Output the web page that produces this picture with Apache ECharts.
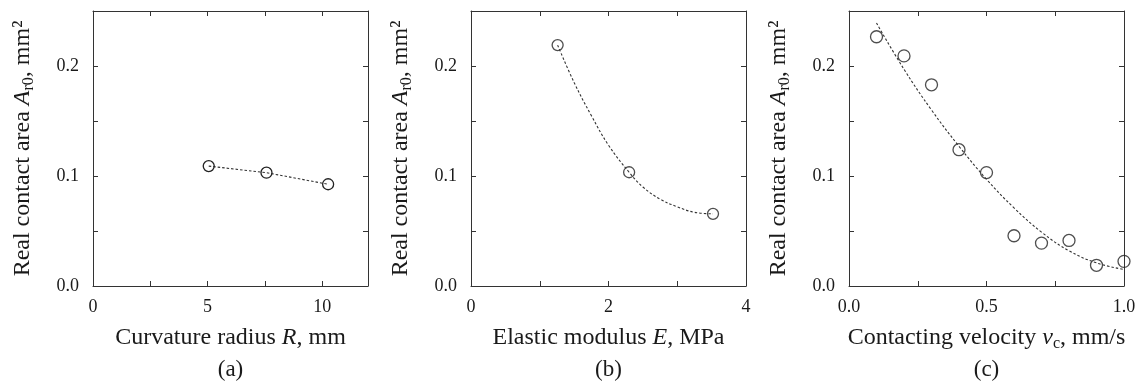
<!DOCTYPE html>
<html><head><meta charset="utf-8">
<script src="https://cdn.jsdelivr.net/npm/echarts@6/dist/echarts.min.js"></script>
<style>html,body{margin:0;padding:0;background:#fff}#c{width:1144px;height:385px}</style>
</head><body><div id="c"></div>
<script>
// ---- data ----
const radiusR = [5.05, 7.57, 10.26];
const areaA = [0.109, 0.103, 0.0925];

const modulusE = [1.26, 2.30, 3.52];
const areaB = [0.219, 0.1034, 0.0656];
const fitBx = [1.26, 1.5, 1.75, 2.0, 2.3, 2.5, 2.75, 3.0, 3.25, 3.52];
const fitBy = [0.219, 0.185, 0.155, 0.128, 0.1034, 0.090, 0.079, 0.072, 0.067, 0.0656];

const velocityV = [0.1, 0.2, 0.3, 0.4, 0.5, 0.6, 0.7, 0.8, 0.9, 1.0];
const areaC = [0.2266, 0.2092, 0.1829, 0.1239, 0.1031, 0.0457, 0.039, 0.0414, 0.0188, 0.0224];
const fitCx = [0.1, 0.2, 0.3, 0.4, 0.5, 0.6, 0.7, 0.8, 0.9, 1.0];
const fitCy = [0.239, 0.197, 0.160, 0.127, 0.097, 0.071, 0.049, 0.032, 0.021, 0.015];

const yTickLabels = ['0.0', '0.1', '0.2'];
const xTickLabelsA = ['0', '5', '10'];
const xTickLabelsB = ['0', '2', '4'];
const xTickLabelsC = ['0.0', '0.5', '1.0'];

// ---- styling ----
const FONT = 'Liberation Serif';
const AX = '#333';
const TXT = '#1a1a1a';
const gridLefts = [93, 471, 849];
const GTOP = 11, GW = 275, GH = 275;

function labelFmt(list) {
  return function (v) {
    for (const s of list) {
      if (Math.abs(parseFloat(s) - v) < 1e-6) return s;
    }
    return '';
  };
}
const richName = {
  i: { fontStyle: 'italic', fontFamily: FONT, fontSize: 24, color: TXT, lineHeight: 28 },
  s: { fontFamily: FONT, fontSize: 16, color: TXT, verticalAlign: 'bottom', lineHeight: 18 }
};
function nameStyle() {
  return { fontFamily: FONT, fontSize: 24, color: TXT, lineHeight: 28, rich: richName };
}

const xDefs = [
  { min: 0, max: 12, interval: 2.5, labels: xTickLabelsA, name: 'Curvature radius {i|R}, mm' },
  { min: 0, max: 4, interval: 1, labels: xTickLabelsB, name: 'Elastic modulus {i|E}, MPa' },
  { min: 0, max: 1, interval: 0.25, labels: xTickLabelsC, name: 'Contacting velocity {i|v}{s|c}, mm/s' }
];

const grid = [], xAxis = [], yAxis = [];
xDefs.forEach((d, i) => {
  grid.push({ left: gridLefts[i], top: GTOP, width: GW, height: GH, containLabel: false });
  const common = {
    type: 'value', gridIndex: i, min: d.min, max: d.max, interval: d.interval,
    axisLine: { show: true, onZero: false, lineStyle: { color: AX, width: 1 } },
    axisTick: { show: true, inside: true, length: 5, lineStyle: { color: AX, width: 1 } },
    splitLine: { show: false }
  };
  xAxis.push(Object.assign({}, common, {
    position: 'bottom',
    name: d.name, nameLocation: 'middle', nameGap: 38, nameTextStyle: nameStyle(),
    axisLabel: { show: true, margin: 12, fontFamily: FONT, fontSize: 18, color: TXT,
      formatter: labelFmt(d.labels), showMinLabel: true, showMaxLabel: true }
  }));
  xAxis.push(Object.assign({}, common, { position: 'top', axisLabel: { show: false } }));
  const ycommon = {
    type: 'value', gridIndex: i, min: 0, max: 0.25, interval: 0.05,
    axisLine: { show: true, onZero: false, lineStyle: { color: AX, width: 1 } },
    axisTick: { show: true, inside: true, length: 5, lineStyle: { color: AX, width: 1 } },
    splitLine: { show: false }
  };
  yAxis.push(Object.assign({}, ycommon, {
    position: 'left',
    name: 'Real contact area {i|A}{s|r0}, mm²', nameLocation: 'middle', nameRotate: 90, nameGap: 56,
    nameTextStyle: nameStyle(),
    axisLabel: { show: true, margin: 14, fontFamily: FONT, fontSize: 18, color: TXT,
      formatter: labelFmt(yTickLabels) }
  }));
  yAxis.push(Object.assign({}, ycommon, { position: 'right', axisLabel: { show: false } }));
});

const markerStyle = { color: 'rgba(0,0,0,0)', borderColor: '#222', borderWidth: 1.3 };
const dashStyle = { color: '#333', width: 1.1, type: [2.5, 2] };
const zip = (a, b) => a.map((v, k) => [v, b[k]]);

const series = [
  { type: 'line', xAxisIndex: 0, yAxisIndex: 0, data: zip(radiusR, areaA), symbol: 'circle', symbolSize: 11,
    itemStyle: markerStyle, lineStyle: dashStyle, silent: true },
  { type: 'line', xAxisIndex: 2, yAxisIndex: 2, data: zip(fitBx, fitBy), smooth: 0.4, symbol: 'none',
    lineStyle: dashStyle, silent: true },
  { type: 'scatter', xAxisIndex: 2, yAxisIndex: 2, data: zip(modulusE, areaB), symbol: 'circle', symbolSize: 11,
    itemStyle: markerStyle, silent: true },
  { type: 'line', xAxisIndex: 4, yAxisIndex: 4, data: zip(fitCx, fitCy), smooth: 0.4, symbol: 'none',
    lineStyle: dashStyle, silent: true },
  { type: 'scatter', xAxisIndex: 4, yAxisIndex: 4, data: zip(velocityV, areaC), symbol: 'circle', symbolSize: 12,
    itemStyle: markerStyle, silent: true }
];

const panelLabels = ['(a)', '(b)', '(c)'];
const graphic = panelLabels.map((t, i) => ({
  type: 'text', x: gridLefts[i] + GW / 2, y: 370,
  style: { text: t, align: 'center', verticalAlign: 'middle', font: '23px "Liberation Serif"', fill: TXT }
}));

const chart = echarts.init(document.getElementById('c'), null, { renderer: 'canvas' });
chart.setOption({ animation: false, backgroundColor: '#fff', grid, xAxis, yAxis, series, graphic });
</script></body></html>
